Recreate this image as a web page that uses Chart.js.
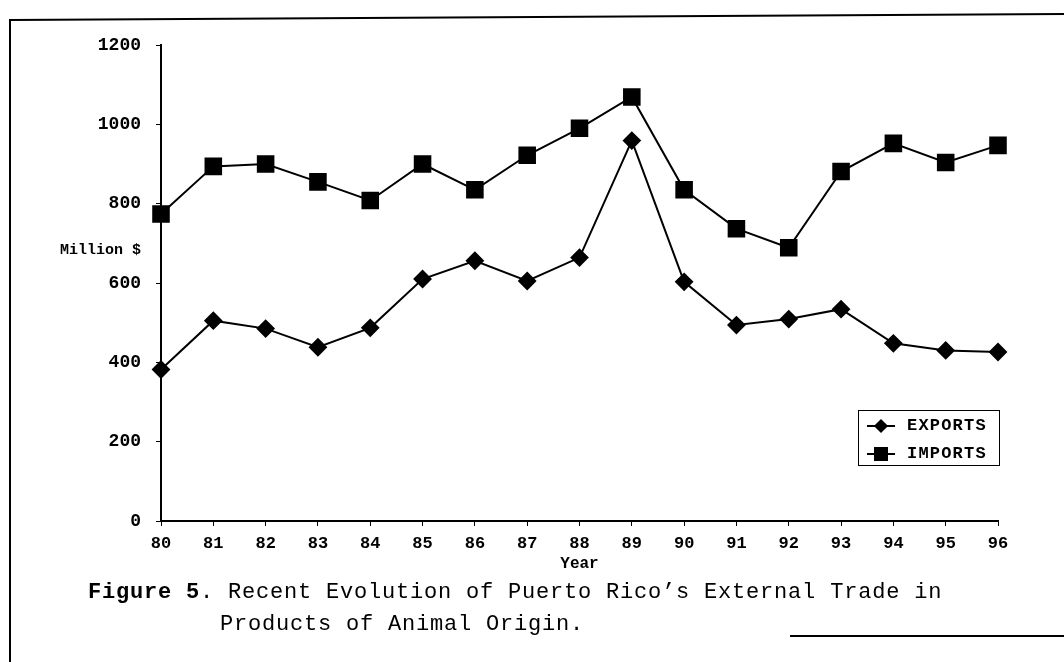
<!DOCTYPE html>
<html>
<head>
<meta charset="utf-8">
<script src="https://cdn.jsdelivr.net/npm/chart.js@4"></script>
<style>
  html, body { margin: 0; padding: 0; background: #fff; }
  #page { position: relative; width: 1064px; height: 662px; overflow: hidden; background: #fff; }
  #chartBox { position: absolute; left: 0; top: 0; width: 1064px; height: 662px; }
  .rule { position: absolute; background: #000; }
  .caption { position: absolute; font-family: "Liberation Mono", monospace; font-size: 22px; line-height: 22px;
             letter-spacing: 0.8px; color: #000; white-space: pre; }
  #legend { position: absolute; left: 858px; top: 410px; width: 140px; height: 54px; border: 1.5px solid #000;
            font-family: "Liberation Mono", monospace; font-weight: bold; font-size: 17px; }
  .row { position: absolute; left: 0; height: 20px; width: 140px; }
  .row .ln { position: absolute; left: 8px; top: 9px; width: 28px; height: 2px; background: #000; }
  .row .mk { position: absolute; background: #000; }
  .row .tx { position: absolute; left: 48px; top: 0; line-height: 20px; letter-spacing: 1.2px; }
</style>
</head>
<body>
<div id="page">
  <div id="chartBox"><canvas id="tradeChart"></canvas></div>

  <!-- scanned page frame -->
  <div class="rule" style="left:10px; top:19px; width:1054px; height:2px; transform:rotate(-0.33deg); transform-origin:0 0;"></div>
  <div class="rule" style="left:9px; top:19px; width:2px; height:643px;"></div>
  <div class="rule" style="left:790px; top:635px; width:274px; height:2px;"></div>

  <div id="legend">
    <div class="row" style="top:5px;">
      <div class="ln"></div>
      <div class="mk" style="left:17px; top:5px; width:10px; height:10px; transform:rotate(45deg);"></div>
      <div class="tx">EXPORTS</div>
    </div>
    <div class="row" style="top:33px;">
      <div class="ln"></div>
      <div class="mk" style="left:15px; top:3px; width:14px; height:14px;"></div>
      <div class="tx">IMPORTS</div>
    </div>
  </div>

  <div class="caption" style="left:88px; top:582px;"><b>Figure 5</b>. Recent Evolution of Puerto Rico’s External Trade in</div>
  <div class="caption" style="left:220px; top:614px;">Products of Animal Origin.</div>
</div>

<script>
// Puerto Rico external trade, products of animal origin (million $)
const years = ['80', '81', '82', '83', '84', '85', '86', '87', '88',
               '89', '90', '91', '92', '93', '94', '95', '96'];
const exportsM = [382, 505, 485, 438, 487, 610, 656, 605, 664,
                  959, 603, 494, 509, 534, 448, 430, 426];
const importsM = [774, 894, 900, 855, 808, 900, 835, 922, 990,
                  1069, 835, 737, 689, 881, 952, 904, 947];
const yMin = 0;
const yMax = 1200;
const yStep = 200;
const yAxisLabel = 'Million $';
const xAxisLabel = 'Year';

const tickFont = { family: 'Liberation Mono', weight: 'bold', size: 17 };

// horizontal "Million $" label left of the y axis
const sideLabel = {
    id: 'sideLabel',
    afterDraw(chart) {
        const ctx = chart.ctx;
        const y = chart.scales.y.getPixelForValue(683);
        ctx.save();
        ctx.font = 'bold 15px "Liberation Mono"';
        ctx.fillStyle = '#000';
        ctx.textAlign = 'right';
        ctx.textBaseline = 'middle';
        ctx.fillText(yAxisLabel, 141, y);
        ctx.restore();
    }
};

const ctx = document.getElementById('tradeChart');

new Chart(ctx, {
    type: 'line',
    data: {
        labels: years,
        datasets: [
            {
                label: 'EXPORTS',
                data: exportsM,
                borderColor: '#000',
                backgroundColor: '#000',
                borderWidth: 2,
                pointStyle: 'rectRot',
                pointRadius: 8,
                pointBackgroundColor: '#000',
                pointBorderColor: '#000',
                tension: 0
            },
            {
                label: 'IMPORTS',
                data: importsM,
                borderColor: '#000',
                backgroundColor: '#000',
                borderWidth: 2,
                pointStyle: 'rect',
                pointRadius: 11,
                pointBackgroundColor: '#000',
                pointBorderColor: '#000',
                tension: 0
            }
        ]
    },
    options: {
        responsive: true,
        maintainAspectRatio: false,
        animation: false,
        layout: { padding: { top: 45, right: 66, left: 0, bottom: 0 } },
        plugins: {
            legend: { display: false },
            tooltip: { enabled: false }
        },
        scales: {
            x: {
                offset: false,
                afterFit: scale => { scale.height = 141; },
                border: { color: '#000', width: 2 },
                grid: { drawOnChartArea: false, drawTicks: true, tickLength: 5, color: '#000' },
                ticks: { color: '#000', font: tickFont, padding: 8, maxRotation: 0, autoSkip: false },
                title: {
                    display: true,
                    text: xAxisLabel,
                    color: '#000',
                    font: { family: 'Liberation Mono', weight: 'bold', size: 16 },
                    padding: { top: 0, bottom: 88 }
                }
            },
            y: {
                min: yMin,
                max: yMax,
                afterFit: scale => { scale.width = 161; },
                border: { color: '#000', width: 2 },
                grid: { drawOnChartArea: false, drawTicks: true, tickLength: 5, color: '#000' },
                ticks: {
                    stepSize: yStep,
                    color: '#000',
                    font: { family: 'Liberation Mono', weight: 'bold', size: 18 },
                    padding: 15,
                    callback: value => String(value)
                }
            }
        }
    },
    plugins: [sideLabel]
});
</script>
</body>
</html>
